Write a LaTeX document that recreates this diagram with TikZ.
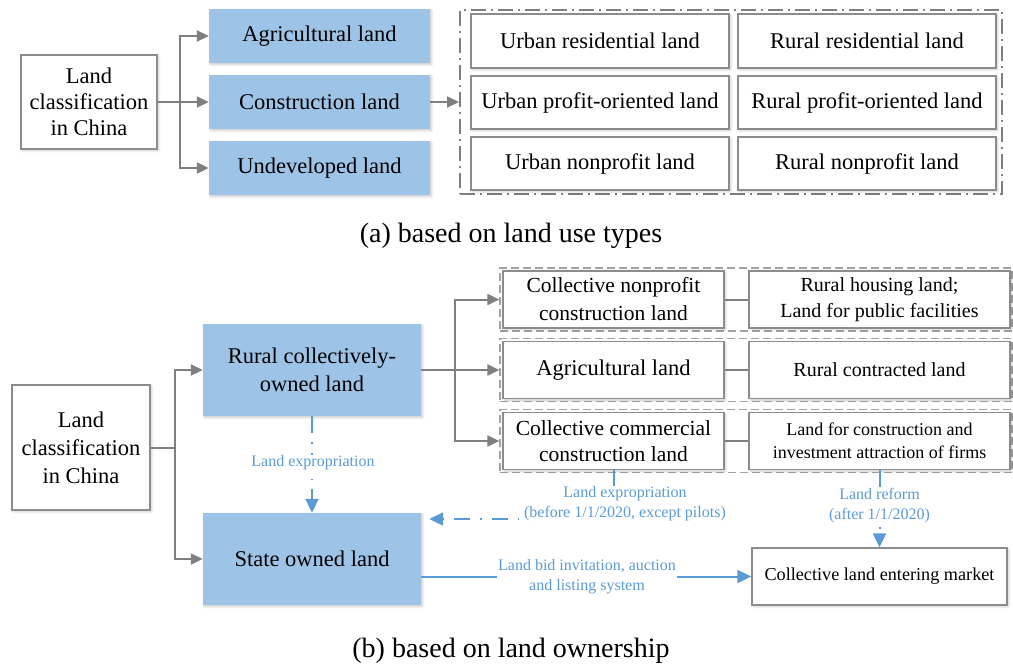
\documentclass[tikz,border=0pt]{standalone}
\usepackage{fontspec}
\setmainfont{Liberation Serif}
\usetikzlibrary{arrows.meta,shadows.blur}

\definecolor{fillblue}{HTML}{9DC3E6}
\definecolor{lineblue}{HTML}{5B9BD5}
\definecolor{greyline}{HTML}{7F7F7F}
\definecolor{boxgrey}{HTML}{8C8C8C}

\newcommand\bigtxt{\fontsize{22.5}{26}\selectfont}
\newcommand\bigtxtb{\fontsize{22.5}{28}\selectfont}
\newcommand\midtxt{\fontsize{20}{26}\selectfont}
\newcommand\smtxt{\fontsize{18}{23}\selectfont}
\newcommand\lbltxt{\fontsize{16}{20}\selectfont}
\newcommand\captxt{\fontsize{28}{32}\selectfont}

\tikzset{
  softshadow/.style={blur shadow={shadow xshift=1.5pt, shadow yshift=-1.5pt,
      shadow blur steps=5, shadow opacity=22, shadow blur radius=2.5pt}},
  plainbox/.style={draw=boxgrey, line width=1.3pt, fill=white, align=center,
      inner sep=0pt, text=black, softshadow},
  bluebox/.style={fill=fillblue, draw=none, align=center, inner sep=0pt,
      text=black, softshadow},
  link/.style={draw=greyline, line width=2pt},
  arr/.style={link, -{Triangle[length=12pt,width=11pt]}},
  bluelink/.style={draw=lineblue, line width=2pt},
  bluearr/.style={bluelink, -{Triangle[length=14pt,width=13pt]}},
  bluelbl/.style={text=lineblue, font=\lbltxt, align=center, fill=white, inner sep=1pt},
  groupbox/.style={draw=boxgrey!80, line width=1.2pt, dash pattern=on 8pt off 4pt},
}

\begin{document}
\begin{tikzpicture}[x=1pt, y=-1pt]
\useasboundingbox (0,0) rectangle (1013,665);

% ---------------- (a) land use types ----------------
\node[plainbox, minimum width=136pt, minimum height=94pt, font=\bigtxt]
  (la) at (89,102) {Land\\classification\\in China};

\node[bluebox, minimum width=221pt, minimum height=54pt, font=\bigtxt]
  (agr) at (319.5,36) {Agricultural land};
\node[bluebox, minimum width=221pt, minimum height=54pt, font=\bigtxt]
  (con) at (319.5,102) {Construction land};
\node[bluebox, minimum width=221pt, minimum height=54pt, font=\bigtxt]
  (und) at (319.5,168) {Undeveloped land};

\node[draw=greyline, line width=2pt, dash pattern=on 15pt off 5pt on 2pt off 5pt,
      minimum width=542pt, minimum height=184pt, inner sep=0pt]
  (uses) at (731,102) {};

\node[plainbox, minimum width=258pt, minimum height=54pt, font=\bigtxt]
  (ur) at (600,41) {Urban residential land};
\node[plainbox, minimum width=258pt, minimum height=54pt, font=\bigtxt]
  (rr) at (867,41) {Rural residential land};
\node[plainbox, minimum width=258pt, minimum height=53pt, font=\bigtxt]
  (up) at (600,102.5) {Urban profit-oriented land};
\node[plainbox, minimum width=258pt, minimum height=53pt, font=\bigtxt]
  (rp) at (867,102.5) {Rural profit-oriented land};
\node[plainbox, minimum width=258pt, minimum height=53pt, font=\bigtxt]
  (un) at (600,163.5) {Urban nonprofit land};
\node[plainbox, minimum width=258pt, minimum height=53pt, font=\bigtxt]
  (rn) at (867,163.5) {Rural nonprofit land};

\coordinate (ja) at (180,102);
\draw[link] (la.east) -- (ja);
\draw[arr] (ja) |- (agr.west);
\draw[arr] (ja) -- (con.west);
\draw[arr] (ja) |- (und.west);
\draw[arr] (con.east) -- (uses.west);

\node[font=\captxt] (capa) at (511,236) {(a) based on land use types};

% ---------------- (b) land ownership ----------------
\node[plainbox, minimum width=138pt, minimum height=125pt, font=\bigtxtb]
  (lb) at (81,447.5) {Land\\classification\\in China};

\node[bluebox, minimum width=218pt, minimum height=92pt, font=\bigtxtb]
  (rc) at (312,370) {Rural collectively-\\owned land};
\node[bluebox, minimum width=218pt, minimum height=92pt, font=\bigtxtb]
  (st) at (312,559) {State owned land};

% dashed groups of collective land
\node[groupbox, minimum width=512pt, minimum height=63pt, inner sep=0pt]
  (g1) at (756,299.5) {};
\node[groupbox, minimum width=512pt, minimum height=63pt, inner sep=0pt]
  (g2) at (756,370) {};
\node[groupbox, minimum width=512pt, minimum height=63pt, inner sep=0pt]
  (g3) at (756,441) {};

\node[plainbox, minimum width=221pt, minimum height=57pt, font=\fontsize{21.5}{28}\selectfont]
  (cn) at (613.5,299.5) {Collective nonprofit\\construction land};
\node[plainbox, minimum width=261pt, minimum height=57pt, font=\midtxt]
  (rh) at (879.5,299.5) {Rural housing land;\\Land for public facilities};
\node[plainbox, minimum width=221pt, minimum height=57pt, font=\bigtxt]
  (ag) at (613.5,370) {Agricultural land};
\node[plainbox, minimum width=261pt, minimum height=57pt, font=\midtxt]
  (rcl) at (879.5,370) {Rural contracted land};
\node[plainbox, minimum width=221pt, minimum height=57pt, font=\fontsize{21.5}{26}\selectfont]
  (cc) at (613.5,441) {Collective commercial\\construction land};
\node[plainbox, minimum width=261pt, minimum height=57pt, font=\smtxt]
  (cf) at (879.5,441) {Land for construction and\\investment attraction of firms};

\draw[link] (cn.east) -- (rh.west);
\draw[link] (ag.east) -- (rcl.west);
\draw[link] (cc.east) -- (cf.west);

\node[plainbox, minimum width=255pt, minimum height=57pt, font=\fontsize{18.2}{22}\selectfont]
  (mkt) at (879.5,576.5) {Collective land entering market};

\coordinate (jb) at (175,447.5);
\draw[link] (lb.east) -- (jb);
\draw[arr] (jb) |- (rc.west);
\draw[arr] (jb) |- (st.west);

\coordinate (jc) at (455,370);
\draw[link] (rc.east) -- (jc);
\draw[arr] (jc) |- (g1.west);
\draw[arr] (jc) -- (g2.west);
\draw[arr] (jc) |- (g3.west);

% expropriation of collective land by the state
\draw[bluearr, dash pattern=on 17pt off 9pt on 1.5pt off 9pt] (rc.south) -- (st.north);
\node[bluelbl] (lx1) at (313,463) {Land expropriation};

% expropriation of commercial construction land
\node[bluelbl, fill=none] (lx2) at (625,504) {Land expropriation\\(before 1/1/2020, except pilots)};
\draw[bluelink] (cc.south) -- (cc.south |- lx2.north);
\coordinate (ex) at (519,519);
\draw[bluearr, dash pattern=on 1.5pt off 10pt on 16pt off 10pt]
  (ex) -- ([xshift=8pt]st.east |- ex);

% land reform
\node[bluelbl, fill=none] (lr) at (879.5,506) {Land reform\\(after 1/1/2020)};
\draw[bluelink] (cf.south) -- (cf.south |- lr.north);
\coordinate (lrd) at (879.5,527);
\draw[bluearr, dash pattern=on 2pt off 20pt] (lrd) -- (mkt.north);

% land bid invitation, auction and listing
\node[bluelbl, fill=none] (bid) at (587,577) {Land bid invitation, auction\\and listing system};
\draw[bluelink] (st.east |- mkt.west) -- (bid.west |- mkt.west);
\draw[bluearr] (bid.east |- mkt.west) -- (mkt.west);

\node[font=\captxt] (capb) at (511,651) {(b) based on land ownership};
\end{tikzpicture}
\end{document}
